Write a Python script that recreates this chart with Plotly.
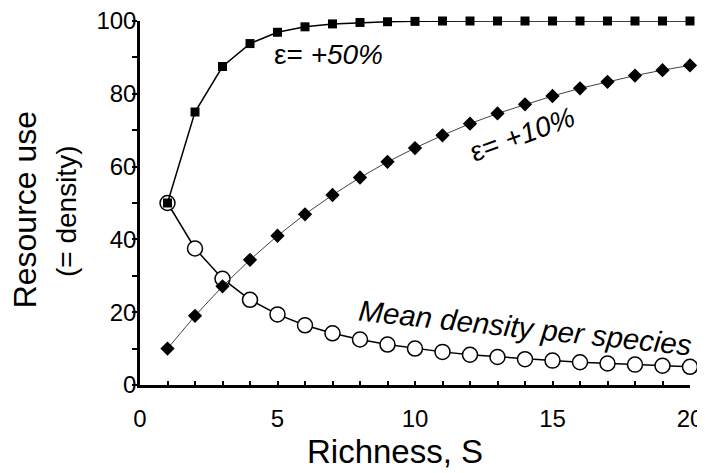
import plotly.graph_objects as go

# Data
richness = list(range(1, 21))
eps50 = [50, 75, 87.5, 93.8, 96.9, 98.4, 99.2, 99.6, 99.8, 99.9,
         100, 100, 100, 100, 100, 100, 100, 100, 100, 100]
eps10 = [10, 19, 27.1, 34.4, 41, 46.9, 52.2, 57, 61.3, 65.1,
         68.6, 71.8, 74.6, 77.1, 79.4, 81.5, 83.3, 85, 86.5, 87.8]
mean_density = [50, 37.5, 29.2, 23.4, 19.4, 16.4, 14.2, 12.5, 11.1, 10,
                9.1, 8.3, 7.7, 7.1, 6.7, 6.25, 5.9, 5.6, 5.3, 5]

x_ticks = [0, 5, 10, 15, 20]
y_ticks = [0, 20, 40, 60, 80, 100]

FONT = "Liberation Sans, Arial, sans-serif"

fig = go.Figure()

fig.add_trace(go.Scatter(
    x=richness, y=mean_density, mode="lines+markers",
    line=dict(color="black", width=1.5),
    marker=dict(symbol="circle", size=15, color="white",
                line=dict(color="black", width=1.5)),
    cliponaxis=False, showlegend=False))

fig.add_trace(go.Scatter(
    x=richness, y=eps10, mode="lines+markers",
    line=dict(color="#444444", width=1),
    marker=dict(symbol="diamond", size=11, color="black",
                line=dict(width=0)),
    cliponaxis=False, showlegend=False))

fig.add_trace(go.Scatter(
    x=richness, y=eps50, mode="lines+markers",
    line=dict(color="black", width=1.5),
    marker=dict(symbol="square", size=9, color="black",
                line=dict(width=0)),
    cliponaxis=False, showlegend=False))

# the page body adds an 8px offset, so the figure is sized to fill the window
fig.update_layout(
    width=697, height=465,
    margin=dict(l=132, r=15, t=13, b=88),
    plot_bgcolor="white", paper_bgcolor="white",
    font=dict(family=FONT, color="black"),
)

fig.update_xaxes(
    range=[0, 20], tickvals=x_ticks, ticktext=[str(v) for v in x_ticks],
    showgrid=False, zeroline=False, automargin=False,
    ticklabeloverflow="allow",
    showline=True, linecolor="black", linewidth=2.5,
    ticks="inside", ticklen=4, tickwidth=1.5, tickcolor="black",
    ticklabelstandoff=10,
    minor=dict(dtick=1, ticks="inside", ticklen=4, tickwidth=1.5,
               tickcolor="black", showgrid=False),
    tickfont=dict(size=24, color="black", family=FONT),
)
fig.update_yaxes(
    range=[0, 100], tickvals=y_ticks, ticktext=[str(v) for v in y_ticks],
    showgrid=False, zeroline=False, automargin=False,
    ticklabeloverflow="allow",
    showline=True, linecolor="black", linewidth=2.5,
    ticks="outside", ticklen=5, tickwidth=1.5, tickcolor="black",
    ticklabelstandoff=-9,
    minor=dict(dtick=10, ticks="outside", ticklen=5, tickwidth=1.5,
               tickcolor="black", showgrid=False),
    tickfont=dict(size=24, color="black", family=FONT),
)

annots = [
    dict(text="Richness, S", x=0.4636, y=-0.184, xref="paper", yref="paper",
         font=dict(size=33), textangle=0),
    dict(text="Resource use", x=-0.209, y=0.48, xref="paper", yref="paper",
         font=dict(size=32), textangle=-90),
    dict(text="(= density)", x=-0.1345, y=0.478, xref="paper", yref="paper",
         font=dict(size=28), textangle=-90),
    dict(text="ε= <i>+50%</i>", x=6.84, y=90.7, xref="x", yref="y",
         font=dict(size=28), textangle=0),
    dict(text="ε= <i>+10%</i>", x=13.9, y=68.7, xref="x", yref="y",
         font=dict(size=28), textangle=-20),
    dict(text="<i>Mean density per species</i>", x=14.0, y=15.9,
         xref="x", yref="y", font=dict(size=29.5), textangle=6),
]
for a in annots:
    fig.add_annotation(showarrow=False, xanchor="center", yanchor="middle",
                       font_family=FONT, font_color="black", **a)

fig.write_html("out.html")
